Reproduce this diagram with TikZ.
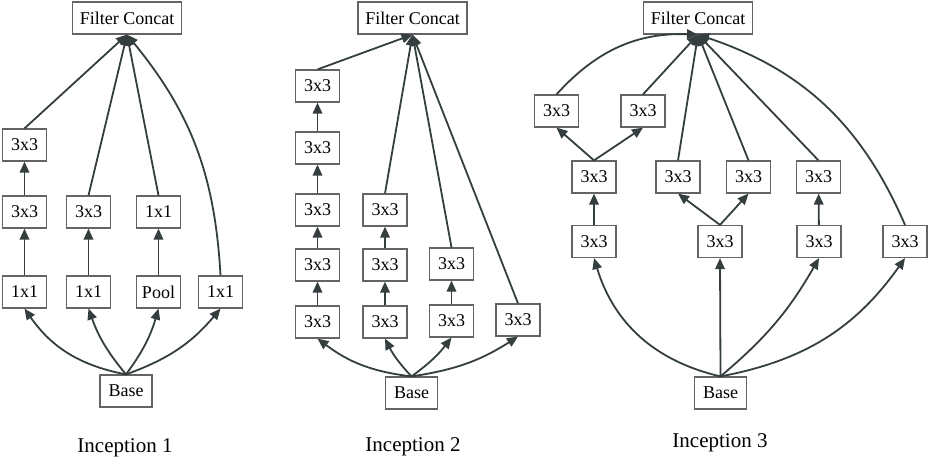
\documentclass[tikz,border=0pt]{standalone}
\usepackage{fontspec}
\setmainfont{Liberation Serif}
\usetikzlibrary{arrows.meta}
\definecolor{grisBoite}{RGB}{100,100,100}
\definecolor{grisFleche}{RGB}{52,62,62}

\tikzset{
  bloc/.style={draw=grisBoite, line width=1.2pt, fill=white, minimum width=44pt,
               minimum height=32pt, inner sep=2pt, font=\fontsize{18}{20}\selectfont},
  concat/.style={bloc, minimum width=109pt},
  base/.style={bloc, minimum width=52pt},
  lien/.style={-{Triangle[length=11pt,width=9.5pt]}, draw=grisFleche, line width=1.8pt},
  titre/.style={font=\fontsize{21}{25}\selectfont}
}

\begin{document}
\begin{tikzpicture}[x=1pt, y=-1pt]

\useasboundingbox (0,0) rectangle (928,459);

% Inception 1
\node[concat] (fcA) at (127,18) {Filter Concat};
\node[bloc] (a13) at (24.5,145) {3x3};
\node[bloc] (a12) at (24.5,212) {3x3};
\node[bloc] (a11) at (24.5,292) {1x1};
\node[bloc] (a22) at (88.5,212) {3x3};
\node[bloc] (a21) at (88.5,292) {1x1};
\node[bloc] (a32) at (158.5,212) {1x1};
\node[bloc] (a31) at (158.5,292) {Pool};
\node[bloc] (a41) at (220.5,292) {1x1};
\node[base] (baseA) at (126,391) {Base};
\node[titre] (labA) at (125,448) {Inception 1};

\draw[lien] (a11) -- (a12);
\draw[lien] (a12) -- (a13);
\draw[lien] (a21) -- (a22);
\draw[lien] (a31) -- (a32);
\draw[lien] (a13.north) -- (fcA.south);
\draw[lien] (a22.north) -- (fcA.south);
\draw[lien] (a32.north) -- (fcA.south);
\draw[lien] (a41.north) to[bend right=18] (fcA.south);
\draw[lien] (baseA.north) to[bend left=22] (a11.south);
\draw[lien] (baseA.north) to[bend left=10] (a21.south);
\draw[lien] (baseA.north) to[bend right=10] (a31.south);
\draw[lien] (baseA.north) to[bend right=15] (a41.south);

% Inception 2
\node[concat] (fcB) at (412.5,18) {Filter Concat};
\node[bloc] (b15) at (317.5,86) {3x3};
\node[bloc] (b14) at (317.5,148) {3x3};
\node[bloc] (b13) at (317.5,210) {3x3};
\node[bloc] (b12) at (317.5,265) {3x3};
\node[bloc] (b11) at (317.5,322) {3x3};
\node[bloc] (b23) at (385,210) {3x3};
\node[bloc] (b22) at (385,265) {3x3};
\node[bloc] (b21) at (385,322) {3x3};
\node[bloc] (b32) at (451.5,264) {3x3};
\node[bloc] (b31) at (451.5,321) {3x3};
\node[bloc] (b41) at (518,320) {3x3};
\node[base] (baseB) at (411.5,393) {Base};
\node[titre] (labB) at (413,447) {Inception 2};

\draw[lien] (b11) -- (b12);
\draw[lien] (b12) -- (b13);
\draw[lien] (b13) -- (b14);
\draw[lien] (b14) -- (b15);
\draw[lien] (b21) -- (b22);
\draw[lien] (b22) -- (b23);
\draw[lien] (b31) -- (b32);
\draw[lien] (b15.north) -- (fcB.south);
\draw[lien] (b23.north) -- (fcB.south);
\draw[lien] (b32.north) -- (fcB.south);
\draw[lien] (b41.north) -- (fcB.south);
\draw[lien] (baseB.north) to[bend left=15] (b11.south);
\draw[lien] (baseB.north) to[bend left=8] (b21.south);
\draw[lien] (baseB.north) to[bend right=8] (b31.south);
\draw[lien] (baseB.north) to[bend right=12] (b41.south);

% Inception 3
\node[concat] (fcC) at (698,18) {Filter Concat};
\node[bloc] (cg) at (556.5,111) {3x3};
\node[bloc] (cd) at (643,111) {3x3};
\node[bloc] (m1) at (594,177) {3x3};
\node[bloc] (m2) at (678,177) {3x3};
\node[bloc] (m3) at (748.5,177) {3x3};
\node[bloc] (m4) at (818.5,177) {3x3};
\node[bloc] (r1) at (594,241.5) {3x3};
\node[bloc] (r2) at (720,241.5) {3x3};
\node[bloc] (r3) at (819,241.5) {3x3};
\node[bloc] (r4) at (905,241.5) {3x3};
\node[base] (baseC) at (720.5,393) {Base};
\node[titre] (labC) at (720,443) {Inception 3};

\draw[lien] (r1) -- (m1);
\draw[lien] (r3) -- (m4);
\draw[lien] (m1.north) -- (cg.south);
\draw[lien] (m1.north) -- (cd.south);
\draw[lien] (r2.north) -- (m2.south);
\draw[lien] (r2.north) -- (m3.south);
\draw[lien] (cg.north) to[bend left=25] (fcC.south);
\draw[lien] (cd.north) -- (fcC.south);
\draw[lien] (m2.north) -- (fcC.south);
\draw[lien] (m3.north) -- (fcC.south);
\draw[lien] (m4.north) -- (fcC.south);
\draw[lien] (r4.north) to[bend right=24] (fcC.south);
\draw[lien] (baseC.north) to[bend left=30] (r1.south);
\draw[lien] (baseC.north) -- (r2.south);
\draw[lien] (baseC.north) to[bend right=10] (r3.south);
\draw[lien] (baseC.north) to[bend right=22] (r4.south);

\end{tikzpicture}
\end{document}
